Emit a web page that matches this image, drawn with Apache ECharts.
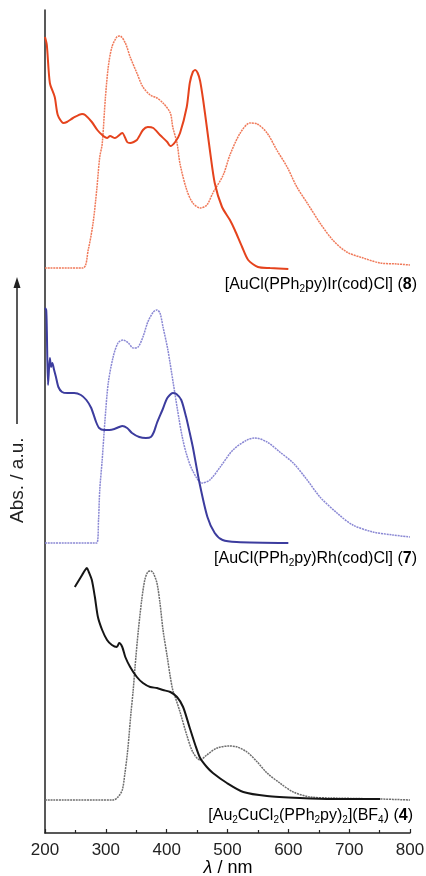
<!DOCTYPE html>
<html>
<head>
<meta charset="utf-8">
<script src="https://cdn.jsdelivr.net/npm/echarts@6/dist/echarts.min.js"></script>
<style>
html,body{margin:0;padding:0;background:#fff;}
#chart{width:426px;height:876px;}
</style>
</head>
<body>
<div id="chart"></div>
<script>
// x: wavelength (nm); y: absorbance / emission (a.u., spectra stacked with offsets)
const xTicks = [200, 300, 400, 500, 600, 700, 800];

// [AuCl(PPh2py)Ir(cod)Cl] (8)
const irAbs = [[200,79.6],[203,78.8],[208,75.0],[216,73.6],[221,71.8],[230,71.0],[236,71.1],[246,71.5],[261,71.9],[266,71.8],[277,71.1],[286,70.3],[294,69.8],[302,69.5],[307,69.7],[315,69.5],[327,70.0],[335,69.1],[340,69.0],[351,69.3],[361,70.3],[369,70.6],[378,70.5],[389,69.8],[401,69.1],[406,68.7],[414,69.1],[422,70.0],[433,72.6],[438,75.0],[443,76.1],[447,76.3],[451,76.0],[455,75.2],[460,73.3],[466,70.6],[471,68.3],[479,65.0],[491,62.6],[504,61.3],[512,60.3],[524,58.6],[534,57.3],[550,56.6],[570,56.5],[600,56.4]];
const irEm = [[200,56.5],[262,56.5],[271,58.3],[279,61.0],[285,64.3],[290,67.6],[294,68.9],[299,73.3],[304,76.6],[310,78.6],[318,79.6],[323,79.7],[332,79.0],[340,77.6],[351,76.0],[361,74.6],[373,73.8],[384,73.5],[394,73.0],[406,72.0],[410,70.6],[417,69.0],[422,66.9],[433,64.3],[443,63.0],[455,62.5],[466,62.8],[476,64.0],[493,65.8],[504,67.8],[521,70.0],[537,71.0],[549,70.9],[565,70.0],[581,68.3],[598,66.6],[614,64.6],[631,63.0],[652,61.0],[673,59.3],[696,58.1],[723,57.5],[751,57.0],[779,56.9],[800,56.8]];

// [AuCl(PPh2py)Rh(cod)Cl] (7)
const rhAbs = [[200,52.5],[202,52.3],[203,50.3],[205,44.8],[208,47.5],[210,46.6],[212,47.0],[215,46.3],[218,45.6],[222,44.6],[228,44.1],[237,44.0],[248,44.0],[259,43.8],[268,43.3],[276,42.5],[284,41.1],[289,40.5],[297,40.3],[306,40.3],[314,40.4],[322,40.6],[327,40.7],[335,40.5],[343,40.0],[355,39.6],[366,39.5],[374,39.6],[379,40.1],[384,41.0],[393,42.3],[401,43.5],[410,44.0],[416,43.9],[424,43.3],[432,41.6],[438,40.0],[443,38.6],[454,35.0],[467,31.6],[479,30.0],[492,29.3],[515,29.1],[600,29.0]];
const rhEm = [[200,29.0],[285,29.0],[288,31.3],[290,34.3],[294,37.3],[299,41.6],[304,45.0],[312,47.6],[320,49.0],[328,49.3],[337,49.0],[345,48.5],[353,48.6],[361,49.6],[369,51.1],[378,52.1],[384,52.3],[389,52.0],[394,50.6],[402,48.3],[410,45.3],[420,41.5],[426,39.5],[433,37.8],[443,36.2],[458,35.0],[471,35.3],[488,36.6],[509,38.3],[532,39.3],[545,39.5],[565,39.1],[586,38.1],[608,37.0],[631,35.3],[652,33.6],[680,32.0],[706,30.8],[739,30.1],[772,29.8],[800,29.6]];

// [Au2CuCl2(PPh2py)2](BF4) (4)
const cuAbs = [[249,24.6],[254,25.1],[261,25.8],[266,26.3],[269,26.5],[272,26.1],[277,25.3],[282,23.6],[287,21.6],[294,20.3],[302,19.3],[310,18.8],[318,18.6],[322,19.0],[327,18.6],[332,17.6],[340,16.6],[351,15.6],[361,15.0],[373,14.6],[384,14.5],[394,14.3],[406,14.1],[417,13.6],[427,12.6],[438,10.5],[447,8.8],[455,7.5],[466,6.6],[476,6.0],[499,5.0],[526,4.1],[565,3.7],[619,3.5],[673,3.4],[751,3.4]];
const cuEm = [[200,3.3],[312,3.3],[320,3.6],[327,4.3],[331,5.8],[336,8.3],[341,11.8],[345,14.3],[348,16.6],[353,20.0],[359,23.3],[364,25.3],[369,26.1],[374,26.2],[378,26.0],[384,25.0],[389,23.0],[394,20.3],[401,17.6],[406,15.6],[410,14.3],[414,13.6],[422,12.1],[433,9.8],[443,8.1],[455,7.3],[466,7.8],[483,8.5],[504,8.7],[516,8.6],[532,8.1],[549,7.1],[565,6.0],[586,5.0],[608,4.1],[636,3.6],[673,3.5],[751,3.4],[800,3.3]];

const chart = echarts.init(document.getElementById('chart'), null, {renderer: 'canvas'});
const FONT = 'Liberation Sans, Arial, sans-serif';

function absSeries(data, color) {
  return {type: 'line', data: data, showSymbol: false, smooth: 0.25, z: 3,
    lineStyle: {color: color, width: 2}};
}
function emSeries(data, color) {
  return {type: 'line', data: data, showSymbol: false, smooth: 0.3, z: 2,
    lineStyle: {color: color, width: 1.5, type: [2, 0.8]}};
}

const rich = {
  n: {fontSize: 16, fontFamily: FONT, color: '#222'},
  s: {fontSize: 10, fontFamily: FONT, color: '#222', padding: [9, 0, 0, 0]},
  b: {fontSize: 16, fontFamily: FONT, color: '#222', fontWeight: 'bold'},
  i: {fontSize: 18, fontFamily: FONT, color: '#222', fontStyle: 'italic'},
  t: {fontSize: 18, fontFamily: FONT, color: '#222'}
};

chart.setOption({
  animation: false,
  backgroundColor: '#fff',
  grid: {left: 45, right: 16, top: 10, bottom: 43, outerBoundsMode: 'none', containLabel: false},
  xAxis: {
    type: 'value', min: 200, max: 800, interval: 100,
    axisLine: {show: true, lineStyle: {color: '#222', width: 1.5}},
    axisTick: {show: true, inside: true, length: 4, lineStyle: {color: '#222', width: 1.2}},
    minorTick: {show: true, splitNumber: 2, length: 3, lineStyle: {color: '#222', width: 1.2}},
    axisLabel: {fontSize: 17, fontFamily: FONT, color: '#222', margin: 9,
      formatter: v => xTicks.includes(v) ? String(v) : ''},
    splitLine: {show: false}
  },
  yAxis: {
    type: 'value', min: 0, max: 82.3,
    axisLine: {show: true, lineStyle: {color: '#222', width: 1.5}},
    axisTick: {show: false}, axisLabel: {show: false}, splitLine: {show: false}
  },
  series: [
    emSeries(irEm, '#f07a5a'),
    absSeries(irAbs, '#e5431d'),
    emSeries(rhEm, '#8a88d4'),
    absSeries(rhAbs, '#3c3c9e'),
    emSeries(cuEm, '#6e6e6e'),
    absSeries(cuAbs, '#151515')
  ],
  graphic: [
    {type: 'text', right: 9, top: 277,
      style: {text: '{n|[AuCl(PPh}{s|2}{n|py)Ir(cod)Cl] (}{b|8}{n|)}', rich: rich}},
    {type: 'text', right: 9, top: 551,
      style: {text: '{n|[AuCl(PPh}{s|2}{n|py)Rh(cod)Cl] (}{b|7}{n|)}', rich: rich}},
    {type: 'text', right: 13, top: 808,
      style: {text: '{n|[Au}{s|2}{n|CuCl}{s|2}{n|(PPh}{s|2}{n|py)}{s|2}{n|](BF}{s|4}{n|) (}{b|4}{n|)}', rich: rich}},
    {type: 'text', x: 228, y: 868,
      style: {text: '{i|λ}{t| / nm}', rich: rich, align: 'center', verticalAlign: 'middle'}},
    {type: 'text', x: 18, y: 523, rotation: Math.PI / 2,
      style: {text: 'Abs. / a.u.', fontSize: 19, fontFamily: FONT, fill: '#222',
        align: 'left', verticalAlign: 'middle'}},
    {type: 'line', shape: {x1: 17, y1: 424, x2: 17, y2: 284},
      style: {stroke: '#222', lineWidth: 1.5}},
    {type: 'polygon', shape: {points: [[17, 277], [13.5, 288], [20.5, 288]]},
      style: {fill: '#222'}}
  ]
});
</script>
</body>
</html>
